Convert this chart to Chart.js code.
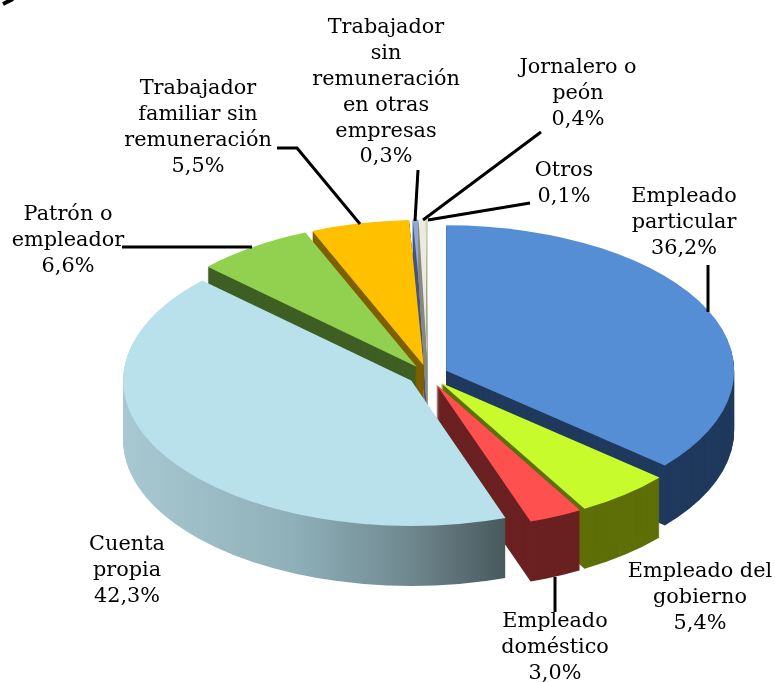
<!DOCTYPE html>
<html><head><meta charset="utf-8">
<style>html,body{margin:0;padding:0;background:#fff}canvas{display:block}</style>
<script src="https://cdn.jsdelivr.net/npm/chart.js@4"></script>
</head><body>
<canvas id="c" width="775" height="683" style="width:775px;height:683px"></canvas>
<script>
const categories = ["Empleado particular","Empleado del gobierno","Empleado doméstico","Cuenta propia","Patrón o empleador","Trabajador familiar sin remuneración","Trabajador sin remuneración en otras empresas","Jornalero o peón","Otros"];
const values = [36.2,5.4,3.0,42.3,6.6,5.5,0.3,0.4,0.1];
const valueLabels = ["36,2%","5,4%","3,0%","42,3%","6,6%","5,5%","0,3%","0,4%","0,1%"];
const labelLines = [["Empleado","particular"],["Empleado del","gobierno"],["Empleado","doméstico"],["Cuenta","propia"],["Patrón o","empleador"],["Trabajador","familiar sin","remuneración"],["Trabajador","sin","remuneración","en otras","empresas"],["Jornalero o","peón"],["Otros"]];

const topColors = ["#558ed5","#c8fb2c","#ff5050","#b8e1ec","#92d050","#ffc000","#8ea9d8","#ecebdf","#d8e4bc"];
const wallColors = ["#203a5e","#5f6f08","#6b2121",null,"#3f5f24","#7f6000","#47587a","#8a8a80","#a0a890"];

// layout
const CX=428, CY=375, K=0.505, DEPTH=60, R=288, EXPLODE=20;
const drawOrder=[6,7,8,5,4,0,1,2,3];
const labelPos=[[684,197],[700,572],[555,622],[127,545],[68,215],[198,89],[386,28],[578,68],[564,171]];
const LINE_H=25.8;
const leaders=[
 [[708,265],[708,312]],
 [[555,577],[555,612]],
 [[122,247],[252,247]],
 [[277,148],[297,148],[360,224]],
 [[418,170],[415,221]],
 [[541,132],[423,220]],
 [[530,203],[428,220]]
];

function variant(el,color){
  const t=Object.create(el);
  const o=Object.create(el.options);
  Object.defineProperty(o,'backgroundColor',{value:color});
  Object.defineProperty(t,'options',{value:o,writable:true});
  return t;
}
const pie3d={
  id:'pie3d',
  beforeDatasetsDraw(chart){
    const ctx=chart.ctx, arcs=chart.getDatasetMeta(0).data;
    for(const i of drawOrder){
      const el=arcs[i];
      const mid=(el.startAngle+el.endAngle)/2;
      const ox=Math.cos(mid)*EXPLODE, oy=Math.sin(mid)*EXPLODE;
      const place=(dy)=>{ctx.translate(CX,CY+dy);ctx.scale(1,K);ctx.translate(ox,oy);ctx.translate(-el.x,-el.y);};
      let wall=wallColors[i];
      if(wall===null){
        const sx=(X)=>X-CX+el.x-ox;
        wall=ctx.createLinearGradient(sx(122),0,sx(505),0);
        wall.addColorStop(0,"#a9c9d2");
        wall.addColorStop(0.45,"#8fb0b9");
        wall.addColorStop(0.75,"#6f888f");
        wall.addColorStop(1,"#48595d");
      }
      const w=variant(el,wall);
      for(let d=DEPTH;d>0;d--){ctx.save();place(d);w.draw(ctx);ctx.restore();}
      ctx.save();place(0);variant(el,topColors[i]).draw(ctx);ctx.restore();
    }
    return false;
  },
  afterDraw(chart){
    const ctx=chart.ctx;
    ctx.save();
    ctx.strokeStyle="#000";ctx.lineWidth=3;ctx.lineJoin="miter";
    for(const pts of leaders){
      ctx.beginPath();ctx.moveTo(pts[0][0],pts[0][1]);
      for(const p of pts.slice(1))ctx.lineTo(p[0],p[1]);
      ctx.stroke();
    }
    ctx.lineWidth=4;ctx.beginPath();ctx.moveTo(3,4);ctx.lineTo(13,-1);ctx.stroke();
    ctx.fillStyle="#000";ctx.font='20.8px "DejaVu Serif"';ctx.textAlign="center";ctx.textBaseline="middle";
    categories.forEach((c,i)=>{
      const lines=[...labelLines[i],valueLabels[i]];
      lines.forEach((t,j)=>ctx.fillText(t,labelPos[i][0],labelPos[i][1]+j*LINE_H));
    });
    ctx.restore();
  }
};
new Chart(document.getElementById('c'),{
  type:'pie',
  data:{labels:categories,datasets:[{data:values,backgroundColor:topColors,borderWidth:0}]},
  options:{responsive:false,animation:false,radius:R,plugins:{legend:{display:false},tooltip:{enabled:false}}},
  plugins:[pie3d]
});
</script>
</body></html>
